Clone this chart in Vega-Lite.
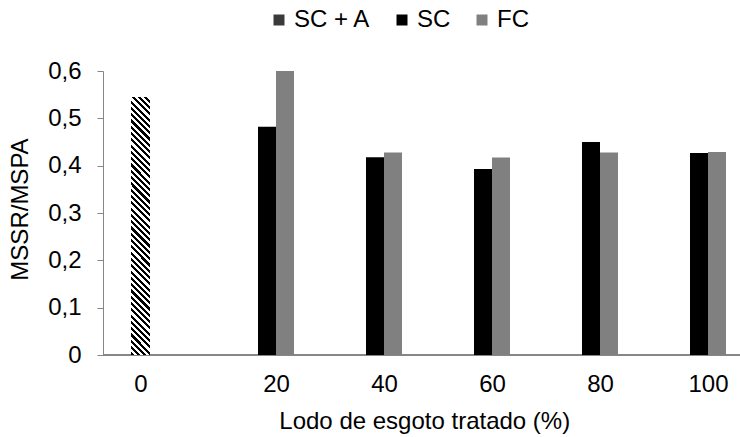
{
  "$schema": "https://vega.github.io/schema/vega-lite/v6.json",
  "autosize": "none",
  "width": 637,
  "height": 284,
  "padding": {"left": 103, "top": 71, "right": 0, "bottom": 82},
  "background": "white",
  "config": {"view": {"stroke": null}, "font": "Liberation Sans"},
  "data": {"values": [
    {"lodo": 0, "serie": "SC + A", "valor": 0.545},
    {"lodo": 20, "serie": "SC", "valor": 0.482},
    {"lodo": 20, "serie": "FC", "valor": 0.6},
    {"lodo": 40, "serie": "SC", "valor": 0.418},
    {"lodo": 40, "serie": "FC", "valor": 0.428},
    {"lodo": 60, "serie": "SC", "valor": 0.393},
    {"lodo": 60, "serie": "FC", "valor": 0.417},
    {"lodo": 80, "serie": "SC", "valor": 0.45},
    {"lodo": 80, "serie": "FC", "valor": 0.428},
    {"lodo": 100, "serie": "SC", "valor": 0.427},
    {"lodo": 100, "serie": "FC", "valor": 0.429}
  ]},
  "layer": [
    {
      "mark": {"type": "rule", "color": "#868686", "strokeWidth": 1},
      "encoding": {"y": {"datum": 0, "type": "quantitative",
        "scale": {"domain": [0, 0.6], "nice": false, "zero": true},
        "axis": {"values": [0, 0.1, 0.2, 0.3, 0.4, 0.5, 0.6], "grid": false, "domainColor": "#868686", "tickColor": "#868686", "tickSize": 6,
          "labelExpr": "datum.value == 0 ? '0' : replace(format(datum.value, '.1f'), '.', ',')",
          "labelFontSize": 24, "labelColor": "#000000", "labelPadding": 16,
          "title": "MSSR/MSPA", "titleFontSize": 24, "titleFontWeight": "normal", "titleColor": "#000000",
          "titleX": -83, "titleY": 138, "titleAngle": -90, "titleAlign": "center", "titleBaseline": "middle"}}}
    },
    {
      "transform": [{"filter": "datum.serie == 'SC + A'"}],
      "mark": {"type": "bar", "width": 19, "strokeWidth": 0,
        "fill": {"gradient": "linear", "x1": 0, "y1": 1, "x2": 0.07897, "y2": -0.0681, "stops": [
          {"offset": 0, "color": "#000000"}, {"offset": 0.01136, "color": "#000000"}, {"offset": 0.01136, "color": "#ffffff"}, {"offset": 0.02273, "color": "#ffffff"},
          {"offset": 0.02273, "color": "#000000"}, {"offset": 0.03409, "color": "#000000"}, {"offset": 0.03409, "color": "#ffffff"}, {"offset": 0.04545, "color": "#ffffff"},
          {"offset": 0.04545, "color": "#000000"}, {"offset": 0.05682, "color": "#000000"}, {"offset": 0.05682, "color": "#ffffff"}, {"offset": 0.06818, "color": "#ffffff"},
          {"offset": 0.06818, "color": "#000000"}, {"offset": 0.07955, "color": "#000000"}, {"offset": 0.07955, "color": "#ffffff"}, {"offset": 0.09091, "color": "#ffffff"},
          {"offset": 0.09091, "color": "#000000"}, {"offset": 0.10227, "color": "#000000"}, {"offset": 0.10227, "color": "#ffffff"}, {"offset": 0.11364, "color": "#ffffff"},
          {"offset": 0.11364, "color": "#000000"}, {"offset": 0.125, "color": "#000000"}, {"offset": 0.125, "color": "#ffffff"}, {"offset": 0.13636, "color": "#ffffff"},
          {"offset": 0.13636, "color": "#000000"}, {"offset": 0.14773, "color": "#000000"}, {"offset": 0.14773, "color": "#ffffff"}, {"offset": 0.15909, "color": "#ffffff"},
          {"offset": 0.15909, "color": "#000000"}, {"offset": 0.17045, "color": "#000000"}, {"offset": 0.17045, "color": "#ffffff"}, {"offset": 0.18182, "color": "#ffffff"},
          {"offset": 0.18182, "color": "#000000"}, {"offset": 0.19318, "color": "#000000"}, {"offset": 0.19318, "color": "#ffffff"}, {"offset": 0.20455, "color": "#ffffff"},
          {"offset": 0.20455, "color": "#000000"}, {"offset": 0.21591, "color": "#000000"}, {"offset": 0.21591, "color": "#ffffff"}, {"offset": 0.22727, "color": "#ffffff"},
          {"offset": 0.22727, "color": "#000000"}, {"offset": 0.23864, "color": "#000000"}, {"offset": 0.23864, "color": "#ffffff"}, {"offset": 0.25, "color": "#ffffff"},
          {"offset": 0.25, "color": "#000000"}, {"offset": 0.26136, "color": "#000000"}, {"offset": 0.26136, "color": "#ffffff"}, {"offset": 0.27273, "color": "#ffffff"},
          {"offset": 0.27273, "color": "#000000"}, {"offset": 0.28409, "color": "#000000"}, {"offset": 0.28409, "color": "#ffffff"}, {"offset": 0.29545, "color": "#ffffff"},
          {"offset": 0.29545, "color": "#000000"}, {"offset": 0.30682, "color": "#000000"}, {"offset": 0.30682, "color": "#ffffff"}, {"offset": 0.31818, "color": "#ffffff"},
          {"offset": 0.31818, "color": "#000000"}, {"offset": 0.32955, "color": "#000000"}, {"offset": 0.32955, "color": "#ffffff"}, {"offset": 0.34091, "color": "#ffffff"},
          {"offset": 0.34091, "color": "#000000"}, {"offset": 0.35227, "color": "#000000"}, {"offset": 0.35227, "color": "#ffffff"}, {"offset": 0.36364, "color": "#ffffff"},
          {"offset": 0.36364, "color": "#000000"}, {"offset": 0.375, "color": "#000000"}, {"offset": 0.375, "color": "#ffffff"}, {"offset": 0.38636, "color": "#ffffff"},
          {"offset": 0.38636, "color": "#000000"}, {"offset": 0.39773, "color": "#000000"}, {"offset": 0.39773, "color": "#ffffff"}, {"offset": 0.40909, "color": "#ffffff"},
          {"offset": 0.40909, "color": "#000000"}, {"offset": 0.42045, "color": "#000000"}, {"offset": 0.42045, "color": "#ffffff"}, {"offset": 0.43182, "color": "#ffffff"},
          {"offset": 0.43182, "color": "#000000"}, {"offset": 0.44318, "color": "#000000"}, {"offset": 0.44318, "color": "#ffffff"}, {"offset": 0.45455, "color": "#ffffff"},
          {"offset": 0.45455, "color": "#000000"}, {"offset": 0.46591, "color": "#000000"}, {"offset": 0.46591, "color": "#ffffff"}, {"offset": 0.47727, "color": "#ffffff"},
          {"offset": 0.47727, "color": "#000000"}, {"offset": 0.48864, "color": "#000000"}, {"offset": 0.48864, "color": "#ffffff"}, {"offset": 0.5, "color": "#ffffff"},
          {"offset": 0.5, "color": "#000000"}, {"offset": 0.51136, "color": "#000000"}, {"offset": 0.51136, "color": "#ffffff"}, {"offset": 0.52273, "color": "#ffffff"},
          {"offset": 0.52273, "color": "#000000"}, {"offset": 0.53409, "color": "#000000"}, {"offset": 0.53409, "color": "#ffffff"}, {"offset": 0.54545, "color": "#ffffff"},
          {"offset": 0.54545, "color": "#000000"}, {"offset": 0.55682, "color": "#000000"}, {"offset": 0.55682, "color": "#ffffff"}, {"offset": 0.56818, "color": "#ffffff"},
          {"offset": 0.56818, "color": "#000000"}, {"offset": 0.57955, "color": "#000000"}, {"offset": 0.57955, "color": "#ffffff"}, {"offset": 0.59091, "color": "#ffffff"},
          {"offset": 0.59091, "color": "#000000"}, {"offset": 0.60227, "color": "#000000"}, {"offset": 0.60227, "color": "#ffffff"}, {"offset": 0.61364, "color": "#ffffff"},
          {"offset": 0.61364, "color": "#000000"}, {"offset": 0.625, "color": "#000000"}, {"offset": 0.625, "color": "#ffffff"}, {"offset": 0.63636, "color": "#ffffff"},
          {"offset": 0.63636, "color": "#000000"}, {"offset": 0.64773, "color": "#000000"}, {"offset": 0.64773, "color": "#ffffff"}, {"offset": 0.65909, "color": "#ffffff"},
          {"offset": 0.65909, "color": "#000000"}, {"offset": 0.67045, "color": "#000000"}, {"offset": 0.67045, "color": "#ffffff"}, {"offset": 0.68182, "color": "#ffffff"},
          {"offset": 0.68182, "color": "#000000"}, {"offset": 0.69318, "color": "#000000"}, {"offset": 0.69318, "color": "#ffffff"}, {"offset": 0.70455, "color": "#ffffff"},
          {"offset": 0.70455, "color": "#000000"}, {"offset": 0.71591, "color": "#000000"}, {"offset": 0.71591, "color": "#ffffff"}, {"offset": 0.72727, "color": "#ffffff"},
          {"offset": 0.72727, "color": "#000000"}, {"offset": 0.73864, "color": "#000000"}, {"offset": 0.73864, "color": "#ffffff"}, {"offset": 0.75, "color": "#ffffff"},
          {"offset": 0.75, "color": "#000000"}, {"offset": 0.76136, "color": "#000000"}, {"offset": 0.76136, "color": "#ffffff"}, {"offset": 0.77273, "color": "#ffffff"},
          {"offset": 0.77273, "color": "#000000"}, {"offset": 0.78409, "color": "#000000"}, {"offset": 0.78409, "color": "#ffffff"}, {"offset": 0.79545, "color": "#ffffff"},
          {"offset": 0.79545, "color": "#000000"}, {"offset": 0.80682, "color": "#000000"}, {"offset": 0.80682, "color": "#ffffff"}, {"offset": 0.81818, "color": "#ffffff"},
          {"offset": 0.81818, "color": "#000000"}, {"offset": 0.82955, "color": "#000000"}, {"offset": 0.82955, "color": "#ffffff"}, {"offset": 0.84091, "color": "#ffffff"},
          {"offset": 0.84091, "color": "#000000"}, {"offset": 0.85227, "color": "#000000"}, {"offset": 0.85227, "color": "#ffffff"}, {"offset": 0.86364, "color": "#ffffff"},
          {"offset": 0.86364, "color": "#000000"}, {"offset": 0.875, "color": "#000000"}, {"offset": 0.875, "color": "#ffffff"}, {"offset": 0.88636, "color": "#ffffff"},
          {"offset": 0.88636, "color": "#000000"}, {"offset": 0.89773, "color": "#000000"}, {"offset": 0.89773, "color": "#ffffff"}, {"offset": 0.90909, "color": "#ffffff"},
          {"offset": 0.90909, "color": "#000000"}, {"offset": 0.92045, "color": "#000000"}, {"offset": 0.92045, "color": "#ffffff"}, {"offset": 0.93182, "color": "#ffffff"},
          {"offset": 0.93182, "color": "#000000"}, {"offset": 0.94318, "color": "#000000"}, {"offset": 0.94318, "color": "#ffffff"}, {"offset": 0.95455, "color": "#ffffff"},
          {"offset": 0.95455, "color": "#000000"}, {"offset": 0.96591, "color": "#000000"}, {"offset": 0.96591, "color": "#ffffff"}, {"offset": 0.97727, "color": "#ffffff"},
          {"offset": 0.97727, "color": "#000000"}, {"offset": 0.98864, "color": "#000000"}, {"offset": 0.98864, "color": "#ffffff"}, {"offset": 1, "color": "#ffffff"}
        ]}},
      "encoding": {
        "x": {"field": "lodo", "type": "quantitative",
          "scale": {"domain": [0, 20, 100], "range": [37.5, 173, 605], "padding": 0, "nice": false, "zero": false},
          "axis": {"values": [0, 20, 40, 60, 80, 100], "domain": false, "ticks": false, "tickSize": 0, "grid": false,
            "labelFontSize": 24, "labelColor": "#000000", "labelPadding": 29, "labelBaseline": "middle", "labelFlush": false,
            "title": "Lodo de esgoto tratado (%)", "titleFontSize": 24, "titleFontWeight": "normal", "titleColor": "#000000",
            "titleY": 66, "titleBaseline": "middle", "titleAlign": "center"}},
        "y": {"field": "valor", "type": "quantitative"}
      }
    },
    {
      "transform": [{"filter": "datum.serie == 'SC'"}],
      "mark": {"type": "bar", "width": 18, "xOffset": -9, "strokeWidth": 0},
      "encoding": {
        "x": {"field": "lodo", "type": "quantitative"},
        "y": {"field": "valor", "type": "quantitative"},
        "color": {"field": "serie", "type": "nominal",
          "scale": {"domain": ["SC + A", "SC", "FC"], "range": ["#3a3a3a", "#000000", "#808080"]},
          "legend": {"orient": "none", "legendX": 164, "legendY": -63, "direction": "horizontal", "title": null,
            "symbolType": "square", "symbolSize": 121, "symbolStrokeWidth": 0, "padding": 0,
            "labelFontSize": 24, "labelColor": "#000000", "labelOffset": 3, "columnPadding": 19,
            "encode": {"symbols": {"update": {"fill": {"condition": [
              {"test": "datum.label === 'SC + A'", "value": {"gradient": "linear", "x1": 0, "y1": 1, "x2": 1, "y2": 0, "stops": [
                {"offset": 0, "color": "#000000"}, {"offset": 0.1, "color": "#000000"}, {"offset": 0.1, "color": "#ffffff"}, {"offset": 0.2, "color": "#ffffff"},
                {"offset": 0.2, "color": "#000000"}, {"offset": 0.3, "color": "#000000"}, {"offset": 0.3, "color": "#ffffff"}, {"offset": 0.4, "color": "#ffffff"},
                {"offset": 0.4, "color": "#000000"}, {"offset": 0.5, "color": "#000000"}, {"offset": 0.5, "color": "#ffffff"}, {"offset": 0.6, "color": "#ffffff"},
                {"offset": 0.6, "color": "#000000"}, {"offset": 0.7, "color": "#000000"}, {"offset": 0.7, "color": "#ffffff"}, {"offset": 0.8, "color": "#ffffff"},
                {"offset": 0.8, "color": "#000000"}, {"offset": 0.9, "color": "#000000"}, {"offset": 0.9, "color": "#ffffff"}, {"offset": 1, "color": "#ffffff"}
              ]}},
              {"test": "datum.label === 'SC'", "value": "#000000"}
            ], "value": "#808080"}}}}}}}
    },
    {
      "transform": [{"filter": "datum.serie == 'FC'"}],
      "mark": {"type": "bar", "width": 18, "xOffset": 9, "strokeWidth": 0},
      "encoding": {
        "x": {"field": "lodo", "type": "quantitative"},
        "y": {"field": "valor", "type": "quantitative"},
        "color": {"field": "serie", "type": "nominal"}}
    }
  ]
}
